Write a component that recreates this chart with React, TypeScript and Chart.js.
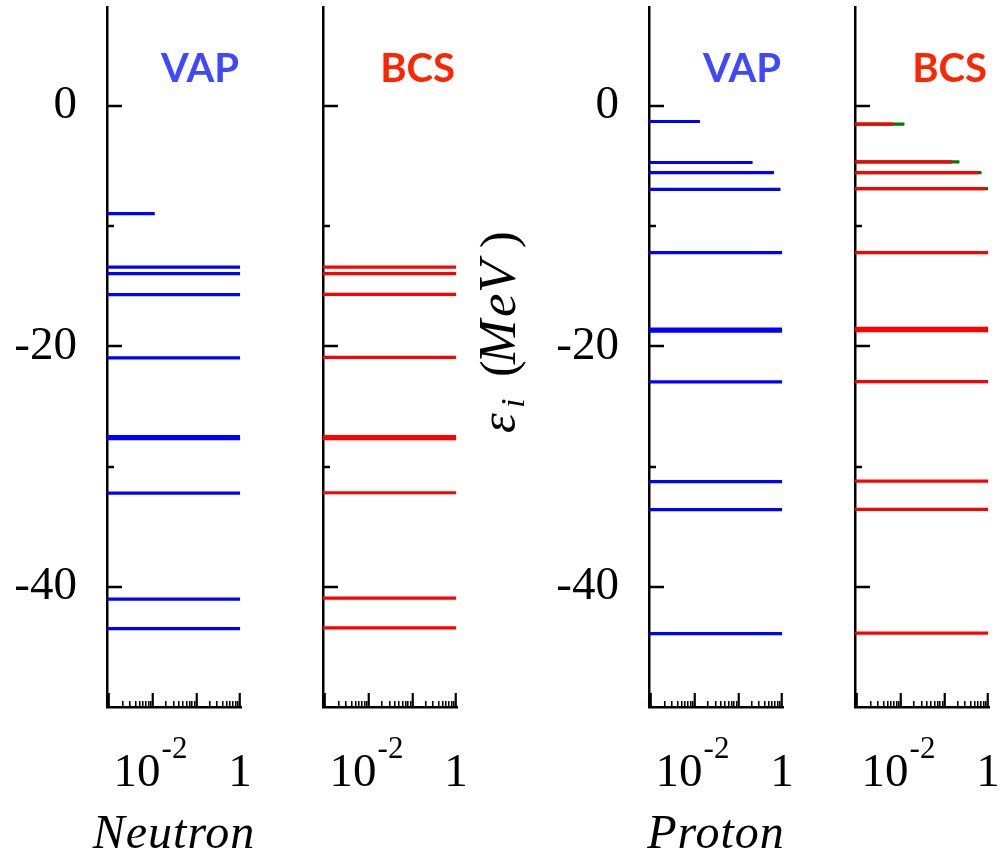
import React, { useEffect, useRef } from 'react';
import { Chart, registerables } from 'chart.js';

Chart.register(...registerables);

// ---- axis ranges ----
const X_MIN = 8.8e-4;
const X_MAX = 1.05;
const Y_MIN = -50;
const Y_MAX = 8.25;

// ---- data: single-particle energies (MeV) and occupations ----
const neutronVapEnergy = [-8.94, -13.39, -13.94, -15.69, -20.94, -27.5, -27.67, -32.2, -41.03, -43.47];
const neutronVapOcc = [0.011, 1, 1, 1, 1, 1, 1, 1, 1, 1];

const neutronBcsEnergy = [-13.39, -13.94, -15.67, -20.9, -27.5, -27.67, -32.17, -40.94, -43.42];
const neutronBcsOcc = [1, 1, 1, 1, 1, 1, 1, 1, 1];

const protonVapEnergy = [-1.28, -4.69, -5.53, -6.92, -12.19, -18.55, -18.73, -22.94, -31.25, -33.58, -43.89];
const protonVapOcc = [0.013, 0.21, 0.65, 0.92, 1, 1, 1, 1, 1, 1, 1];

const protonBcsEnergy = [-1.5, -4.64, -5.53, -6.86, -12.19, -18.5, -18.68, -22.92, -31.2, -33.56, -43.86];
const protonBcsOcc = [0.0066, 0.148, 0.59, 0.87, 1, 1, 1, 1, 1, 1, 1];

const protonBcsGreenEnergy = [-1.5, -4.64, -5.53, -6.86];
const protonBcsGreenOcc = [0.012, 0.22, 0.71, 1.0];

// ---- tick labels ----
const yLabelValues = [0, -20, -40];
const yMajorTicks = [0, -20, -40];
const yMinorTicks = [-10, -30];
const xLabelValues = [0.01, 1];
const xLabelBase = ['10', '1'];
const xLabelSup = ['-2', ''];

const BLUE = '#0000ff';
const RED = '#ff0000';
const GREEN = '#007a00';
const VAP_TEXT = '#3f48ff';
const BCS_TEXT = '#ff2400';
const SERIF = '"Liberation Serif", "Times New Roman", serif';

type Series = { energy: number[]; occ: number[]; color: string; order: number };
type PanelCfg = {
  key: string;
  left: number;
  width: number;
  axisWidth: number;
  showYLabels: boolean;
  label: string;
  labelColor: string;
  series: Series[];
  xTitle?: string;
  yTitle?: boolean;
};

const panels: PanelCfg[] = [
  { key: 'nVap', left: 0, width: 260, axisWidth: 107, showYLabels: true, label: 'VAP', labelColor: VAP_TEXT,
    series: [{ energy: neutronVapEnergy, occ: neutronVapOcc, color: BLUE, order: 1 }], xTitle: 'Neutron' },
  { key: 'nBcs', left: 216, width: 260, axisWidth: 107, showYLabels: false, label: 'BCS', labelColor: BCS_TEXT,
    series: [{ energy: neutronBcsEnergy, occ: neutronBcsOcc, color: RED, order: 1 }] },
  { key: 'pVap', left: 449, width: 353, axisWidth: 200, showYLabels: true, label: 'VAP', labelColor: VAP_TEXT,
    series: [{ energy: protonVapEnergy, occ: protonVapOcc, color: BLUE, order: 1 }], xTitle: 'Proton', yTitle: true },
  { key: 'pBcs', left: 748, width: 260, axisWidth: 107, showYLabels: false, label: 'BCS', labelColor: BCS_TEXT,
    series: [
      { energy: protonBcsEnergy, occ: protonBcsOcc, color: RED, order: 1 },
      { energy: protonBcsGreenEnergy, occ: protonBcsGreenOcc, color: GREEN, order: 2 },
    ] },
];

function makePlugin(cfg: PanelCfg) {
  return {
    id: 'decor_' + cfg.key,
    afterDraw(chart: any) {
      const ctx: CanvasRenderingContext2D = chart.ctx;
      const xa = chart.scales.x;
      const ya = chart.scales.y;
      const area = chart.chartArea;
      ctx.save();
      ctx.strokeStyle = '#000';
      ctx.lineWidth = 2.5;
      // inward y ticks
      const yt = [...yMajorTicks.map((v) => [v, 15]), ...yMinorTicks.map((v) => [v, 7])];
      yt.forEach(([v, len]) => {
        const py = Math.round(ya.getPixelForValue(v));
        ctx.beginPath();
        ctx.moveTo(area.left, py);
        ctx.lineTo(area.left + len, py);
        ctx.stroke();
      });
      // upward log x ticks
      ctx.lineWidth = 1.6;
      for (let e = -4; e <= 0; e++) {
        for (let m = 1; m <= 9; m++) {
          const v = m * Math.pow(10, e);
          if (v < X_MIN || v > X_MAX) continue;
          const len = m === 1 ? 14 : 6;
          ctx.lineWidth = m === 1 ? 2.2 : 1.6;
          const px = Math.round(xa.getPixelForValue(v)) - 0.25;
          ctx.beginPath();
          ctx.moveTo(px, area.bottom);
          ctx.lineTo(px, area.bottom - len);
          ctx.stroke();
        }
      }
      // x tick labels
      ctx.fillStyle = '#000';
      ctx.textBaseline = 'alphabetic';
      xLabelValues.forEach((v, i) => {
        const px = xa.getPixelForValue(v);
        const base = xLabelBase[i];
        const sup = xLabelSup[i];
        ctx.font = `47px ${SERIF}`;
        const w1 = ctx.measureText(base).width;
        let w2 = 0;
        if (sup) {
          ctx.font = `31px ${SERIF}`;
          w2 = ctx.measureText(sup).width;
        }
        const start = sup ? px - (w1 + w2) / 2 - 3 : px - w1 / 2;
        ctx.font = `47px ${SERIF}`;
        ctx.textAlign = 'left';
        ctx.fillText(base, start, 786);
        if (sup) {
          ctx.font = `31px ${SERIF}`;
          ctx.fillText(sup, start + w1 + 1, 758);
        }
      });
      // panel label
      ctx.font = 'bold 40px Lato, "Open Sans", sans-serif';
      ctx.fillStyle = cfg.labelColor;
      ctx.textAlign = 'right';
      ctx.fillText(cfg.label, area.right - 2, 82);
      // x title
      if (cfg.xTitle) {
        ctx.fillStyle = '#000';
        ctx.font = `italic 48px ${SERIF}`;
        (ctx as any).letterSpacing = '1px';
        ctx.textAlign = 'center';
        ctx.fillText(cfg.xTitle, (area.left + area.right) / 2, 848);
        (ctx as any).letterSpacing = '0px';
      }
      // y title
      if (cfg.yTitle) {
        ctx.fillStyle = '#000';
        ctx.translate(area.left - 134, 433);
        ctx.rotate(-Math.PI / 2);
        ctx.textAlign = 'left';
        const it = `italic 53px ${SERIF}`;
        const up = `50px ${SERIF}`;
        const pieces: [string, number, number, string][] = [
          ['ε', 0, 0, `italic 50px ${SERIF}`],
          ['i', 25, 9, `italic 34px ${SERIF}`],
          ['(', 56, 0, up],
          ['M', 69, 0, it],
          ['e', 116, 0, it],
          ['V', 140, 0, it],
          [')', 185, 0, up],
        ];
        pieces.forEach(([t, x, y, f]) => {
          ctx.font = f;
          ctx.fillText(t, x, y);
        });
      }
      ctx.restore();
    },
  };
}

function buildConfig(cfg: PanelCfg): any {
  const datasets: any[] = [];
  cfg.series.forEach((s) => {
    s.energy.forEach((e, i) => {
      datasets.push({
        data: [
          { x: X_MIN, y: e },
          { x: s.occ[i], y: e },
        ],
        borderColor: s.color,
        backgroundColor: s.color,
        borderWidth: 3.2,
        pointRadius: 0,
        borderCapStyle: 'butt',
        order: s.order,
      });
    });
  });
  return {
    type: 'line',
    data: { datasets },
    options: {
      responsive: false,
      animation: false,
      events: [],
      layout: { padding: { left: 0, right: 19, top: 7, bottom: 147 } },
      plugins: { legend: { display: false }, tooltip: { enabled: false }, title: { display: false } },
      scales: {
        x: {
          type: 'logarithmic',
          min: X_MIN,
          max: X_MAX,
          grid: { display: false, drawTicks: false },
          border: { display: true, color: '#000', width: 2.5 },
          ticks: { display: false, autoSkip: false },
          afterFit: (s: any) => {
            s.height = 0;
            s.paddingLeft = 0;
            s.paddingRight = 0;
          },
        },
        y: {
          type: 'linear',
          min: Y_MIN,
          max: Y_MAX,
          grid: { display: false, drawTicks: false },
          border: { display: true, color: '#000', width: 2.5 },
          ticks: {
            display: cfg.showYLabels,
            stepSize: 10,
            includeBounds: false,
            autoSkip: false,
            padding: 30,
            color: '#000',
            font: { family: SERIF, size: 47 },
            callback: (v: number) => (yLabelValues.includes(v) ? String(v) : ''),
          },
          afterFit: (s: any) => {
            s.width = cfg.axisWidth;
            s.paddingTop = 0;
            s.paddingBottom = 0;
          },
        },
      },
    },
    plugins: [makePlugin(cfg)],
  };
}

function Panel({ cfg }: { cfg: PanelCfg }) {
  const ref = useRef<HTMLCanvasElement | null>(null);
  useEffect(() => {
    if (!ref.current) return;
    const chart = new Chart(ref.current, buildConfig(cfg));
    return () => chart.destroy();
  }, [cfg]);
  return (
    <canvas
      ref={ref}
      width={cfg.width}
      height={854}
      style={{ position: 'absolute', left: cfg.left, top: 0, width: cfg.width, height: 854, display: 'block' }}
    />
  );
}

export default function App() {
  return (
    <div style={{ position: 'absolute', left: 0, top: 0, width: 1008, height: 854, background: '#fff', overflow: 'hidden' }}>
      {panels.map((p) => (
        <Panel key={p.key} cfg={p} />
      ))}
    </div>
  );
}
